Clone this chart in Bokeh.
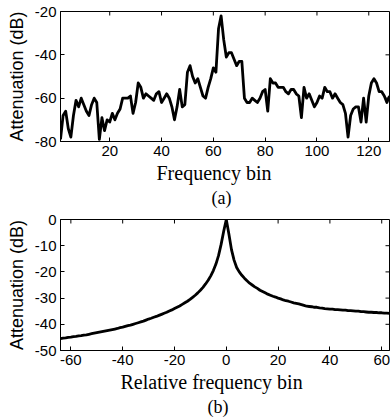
import math
from bokeh.plotting import figure
from bokeh.layouts import column
from bokeh.models import FixedTicker, Title
from bokeh.embed import file_html
from bokeh.resources import INLINE

# ---------------- data ----------------
bins_a = list(range(1, 129))
atten_a = [
    -79, -68, -66, -74, -78, -68, -61, -64, -60, -63,
    -66, -68, -63, -60, -62, -79, -69, -75, -70, -71,
    -67, -70, -67, -65, -60, -60, -60, -59, -67, -62,
    -53, -55, -60, -58, -59, -60, -61, -58, -57, -62,
    -60, -58, -60, -64, -70, -64, -56, -64, -63, -48,
    -45, -50, -53, -51, -55, -59, -60, -55, -51, -46,
    -48, -28, -22, -33, -41, -39, -39, -42, -45, -43,
    -43, -60, -62, -62, -60, -61, -62, -60, -57, -56,
    -66, -51, -53, -53, -55, -55, -55, -57, -58, -56,
    -56, -58, -59, -69, -55, -60, -58, -61, -64, -62,
    -59, -60, -55, -57, -57, -60, -58, -60, -62, -63,
    -67, -78, -68, -65, -64, -64, -71, -60, -71, -59,
    -53, -51, -53, -57, -57, -59, -62, -59,
]
xticks_a = [20, 40, 60, 80, 100, 120]
yticks_a = [-80, -60, -40, -20]

bins_b = list(range(-64, 64))
atten_b = [
    -45.5, -45.3, -45.2, -45.0, -44.9, -44.7, -44.6, -44.4, -44.3, -44.1,
    -44.0, -43.8, -43.6, -43.4, -43.2, -43.0, -42.8, -42.6, -42.4, -42.2,
    -42.0, -41.8, -41.6, -41.3, -41.1, -40.8, -40.5, -40.3, -40.0, -39.7,
    -39.4, -39.1, -38.8, -38.4, -38.0, -37.7, -37.3, -37.0, -36.6, -36.2,
    -35.8, -35.4, -34.9, -34.5, -34.0, -33.5, -33.0, -32.4, -31.8, -31.2,
    -30.5, -29.7, -28.9, -28.0, -27.0, -25.9, -24.6, -23.2, -21.5, -19.5,
    -17.0, -13.8, -9.5, -4.5, 0.0, -5.5, -11.5, -15.5, -18.3, -20.0,
    -21.3, -22.4, -23.4, -24.3, -25.0, -25.7, -26.3, -27.0, -27.5, -28.0,
    -28.5, -28.9, -29.3, -29.6, -30.0, -30.3, -30.7, -31.0, -31.2, -31.5,
    -31.8, -32.0, -32.2, -32.5, -32.8, -33.1, -33.2, -33.3, -33.5, -33.5,
    -33.7, -33.8, -34.0, -34.1, -34.2, -34.2, -34.4, -34.4, -34.5, -34.6,
    -34.6, -34.8, -34.8, -34.9, -35.0, -35.0, -35.2, -35.2, -35.3, -35.4,
    -35.4, -35.5, -35.5, -35.6, -35.6, -35.7, -35.7, -35.8,
]
xticks_b = [-60, -40, -20, 0, 20, 40, 60]
yticks_b = [-50, -40, -30, -20, -10, 0]

SANS = "Liberation Sans"
SERIF = "Liberation Serif"


def style_axis(ax, ticks):
    ax.ticker = FixedTicker(ticks=ticks)
    ax.major_label_overrides = {t: str(t) for t in ticks}
    ax.major_tick_in = 4
    ax.major_tick_out = 0
    ax.major_tick_line_color = "black"
    ax.minor_tick_line_color = None
    ax.axis_line_color = "black"
    ax.major_label_text_font = SANS
    ax.major_label_text_font_size = "15px"
    ax.major_label_text_color = "black"
    ax.major_label_standoff = 4


def make_panel(x, y, xr, yr, xticks, yticks, xlabel, xlabel_off, tag, tag_off,
               height, top_border, bottom_border, right_border):
    p = figure(width=390, height=height, x_range=xr, y_range=yr,
               output_backend="svg", toolbar_location=None,
               min_border_left=60, min_border_right=right_border,
               min_border_top=top_border, min_border_bottom=bottom_border)
    p.grid.visible = False
    p.outline_line_color = "black"
    p.outline_line_width = 1
    p.background_fill_color = "white"
    p.border_fill_color = "white"

    p.line(x, y, line_width=2.8, line_color="black", line_join="round")

    # mirrored inward ticks on the top and right edges
    p.ray(x=xticks, y=[yr[1]] * len(xticks), length=4, length_units="screen",
          angle=-math.pi / 2, line_color="black", line_width=1)
    p.ray(x=[xr[1]] * len(yticks), y=yticks, length=4, length_units="screen",
          angle=math.pi, line_color="black", line_width=1)

    style_axis(p.xaxis[0], xticks)
    style_axis(p.yaxis[0], yticks)
    p.yaxis[0].axis_label = "Attenuation (dB)"
    p.yaxis[0].axis_label_text_font = SANS
    p.yaxis[0].axis_label_text_font_size = "18px"
    p.yaxis[0].axis_label_text_font_style = "normal"
    p.yaxis[0].axis_label_text_color = "black"
    p.yaxis[0].axis_label_standoff = 5

    xl = Title(text=xlabel, align="left", offset=xlabel_off, text_font=SERIF,
               text_font_size="20px", text_font_style="normal",
               text_color="black", standoff=2)
    p.add_layout(xl, "below")
    t = Title(text=tag, align="left", offset=tag_off, text_font=SERIF,
              text_font_size="18px", text_font_style="normal",
              text_color="black", standoff=2)
    p.add_layout(t, "below")
    return p


p1 = make_panel(bins_a, atten_a, (1, 128), (-80, -20), xticks_a, yticks_a,
                "Frequency bin", 96, "(a)", 151, 210, 11, 69, 0)
p2 = make_panel(bins_b, atten_b, (-64, 63), (-50, 0), xticks_b, yticks_b,
                "Relative frequency bin", 60, "(b)", 147, 207, 9, 67, 1)

layout = column(p1, p2, spacing=0)
open("out.html", "w").write(file_html(layout, INLINE))
